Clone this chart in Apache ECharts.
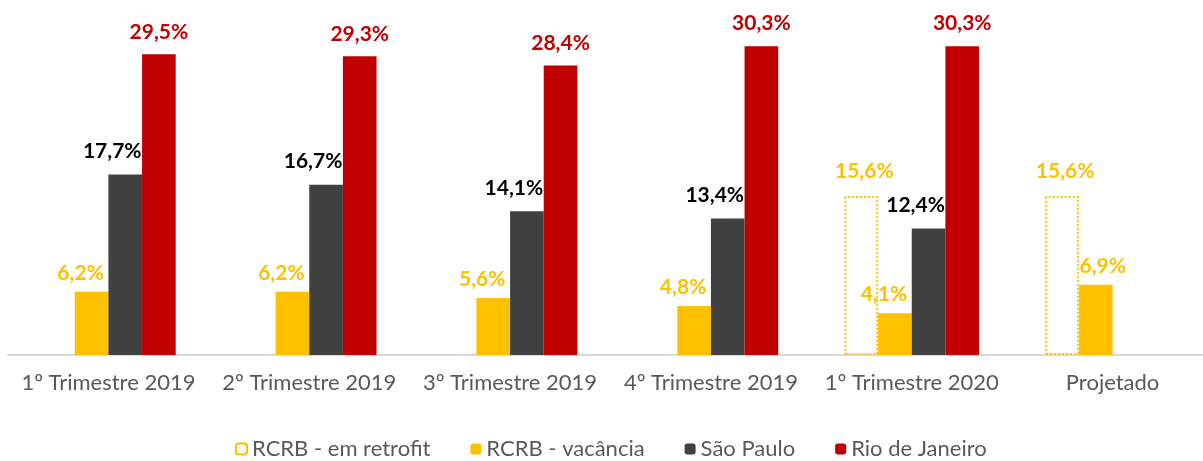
<!DOCTYPE html>
<html>
<head>
<meta charset="utf-8">
<script src="https://cdn.jsdelivr.net/npm/echarts@6/dist/echarts.min.js"></script>
<style>
  html, body { margin: 0; padding: 0; background: #fff; overflow: hidden; }
  /* plot area runs a few pixels past the right edge, like the source */
  #chart { width: 1213px; height: 461px; }
</style>
</head>
<body>
<div id="chart"></div>
<script>
const categories = ['1º Trimestre 2019', '2º Trimestre 2019', '3º Trimestre 2019', '4º Trimestre 2019', '1º Trimestre 2020', 'Projetado']
const retrofit = [null, null, null, null, 15.6, 15.6]
const vacancia = [6.2, 6.2, 5.6, 4.8, 4.1, 6.9]
const saoPaulo = [17.7, 16.7, 14.1, 13.4, 12.4, null]
const rioJaneiro = [29.5, 29.3, 28.4, 30.3, 30.3, null]

const fmt = (p) => p.value == null ? '' : p.value.toFixed(1).replace('.', ',') + '%'
const font = 'Lato, "Open Sans", sans-serif'

const labelStyle = (color, distance, offset) => ({
  show: true,
  position: 'top',
  distance: distance,
  offset: offset,
  color: color,
  fontFamily: font,
  fontWeight: 'bold',
  fontSize: 21,
  formatter: fmt
})

// the projected vacancy label sits to the right of its bar
const vacanciaData = vacancia.map((v, i) => i === vacancia.length - 1 ? { value: v, label: { offset: [7, 0] } } : v)

const chart = echarts.init(document.getElementById('chart'))

chart.setOption({
  animation: false,
  grid: { left: 8, right: 0, top: 39, bottom: 106 },
  legend: {
    top: 438,
    left: 235,
    padding: 0,
    itemWidth: 11,
    itemHeight: 11,
    itemGap: 40,
    textStyle: { color: '#595959', fontFamily: font, fontSize: 22 },
    data: ['RCRB - em retrofit', 'RCRB - vacância', 'São Paulo', 'Rio de Janeiro']
  },
  xAxis: {
    type: 'category',
    data: categories,
    axisLine: { lineStyle: { color: '#D9D9D9', width: 2 } },
    axisTick: { show: false },
    axisLabel: { color: '#595959', fontFamily: font, fontSize: 22, margin: 17, interval: 0 }
  },
  yAxis: {
    type: 'value',
    min: 0,
    max: 31,
    show: false,
    splitLine: { show: false }
  },
  series: [
    {
      name: 'RCRB - em retrofit',
      type: 'bar',
      data: retrofit,
      barGap: 0,
      barCategoryGap: '33%',
      itemStyle: { color: 'rgba(255,255,255,0)', borderColor: '#FFC000', borderType: 'dotted', borderWidth: 2 },
      label: labelStyle('#FFC000', 14, [3, 0])
    },
    {
      name: 'RCRB - vacância',
      type: 'bar',
      data: vacanciaData,
      barGap: 0,
      barCategoryGap: '33%',
      itemStyle: { color: '#FFC000' },
      label: labelStyle('#FFC000', 8, [-11, 0])
    },
    {
      name: 'São Paulo',
      type: 'bar',
      data: saoPaulo,
      barGap: 0,
      barCategoryGap: '33%',
      itemStyle: { color: '#404040' },
      label: labelStyle('#000000', 13, [-13, 0])
    },
    {
      name: 'Rio de Janeiro',
      type: 'bar',
      data: rioJaneiro,
      barGap: 0,
      barCategoryGap: '33%',
      itemStyle: { color: '#C00000' },
      label: labelStyle('#C00000', 12, [0, 0])
    }
  ]
})

window.addEventListener('resize', () => chart.resize())
</script>
</body>
</html>
